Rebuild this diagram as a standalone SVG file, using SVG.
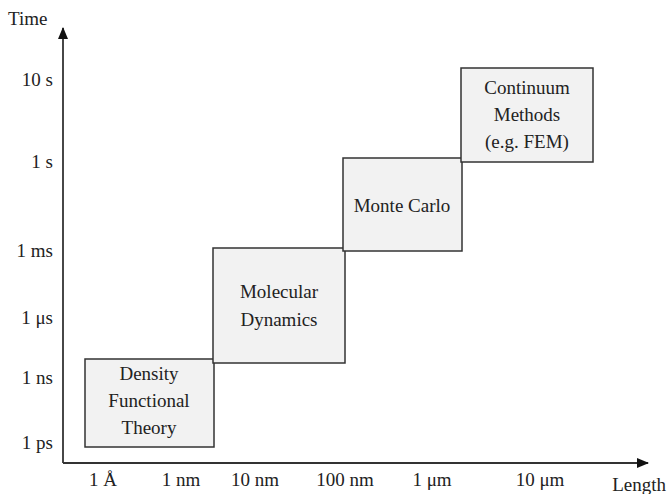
<svg xmlns="http://www.w3.org/2000/svg" width="670" height="494" viewBox="0 0 670 494" font-family="'Liberation Serif', 'Times New Roman', 'DejaVu Serif', serif" font-size="19">
<style>
text{font-family:'Liberation Serif','Times New Roman','DejaVu Serif',serif;font-size:19px;fill:#222}
.box{fill:#f2f2f2;stroke:#333;stroke-width:1.5}
.ax{stroke:#333;stroke-width:1.8;fill:none}
.yl{text-anchor:end}
.c{text-anchor:middle}
</style>
<defs>
<marker id="ah" markerWidth="12" markerHeight="10" refX="11" refY="5" orient="auto" markerUnits="userSpaceOnUse">
<path d="M0,0 L12,5 L0,10 Z" fill="#111"/>
</marker>
</defs>
<g id="connectors">
<path class="ax" d="M63,463 V28" marker-end="url(#ah)"/>
<path class="ax" d="M63,463 H648" marker-end="url(#ah)"/>
</g>
<g id="labels">
<text x="8" y="25">Time</text>
<text x="666" y="491" text-anchor="end">Length</text>
<text class="yl" x="53" y="86">10 s</text>
<text class="yl" x="53" y="168">1 s</text>
<text class="yl" x="53" y="257">1 ms</text>
<text class="yl" x="53" y="324">1 μs</text>
<text class="yl" x="53" y="384">1 ns</text>
<text class="yl" x="53" y="449">1 ps</text>
<text class="c" x="103" y="486">1 Å</text>
<text class="c" x="181" y="486">1 nm</text>
<text class="c" x="255" y="486">10 nm</text>
<text class="c" x="345" y="486">100 nm</text>
<text class="c" x="432" y="486">1 μm</text>
<text class="c" x="540" y="486">10 μm</text>
</g>
<g id="dft">
<rect class="box" x="85" y="359" width="129" height="88"/>
<text class="c" x="149" y="380">Density</text>
<text class="c" x="149" y="407">Functional</text>
<text class="c" x="149" y="434">Theory</text>
</g>
<g id="md">
<rect class="box" x="213" y="248" width="132" height="115"/>
<text class="c" x="279" y="298">Molecular</text>
<text class="c" x="279" y="326">Dynamics</text>
</g>
<g id="mc">
<rect class="box" x="343" y="158" width="119" height="93"/>
<text class="c" x="402" y="212">Monte Carlo</text>
</g>
<g id="continuum">
<rect class="box" x="461" y="68" width="132" height="94"/>
<text class="c" x="527" y="94">Continuum</text>
<text class="c" x="527" y="121">Methods</text>
<text class="c" x="527" y="148">(e.g. FEM)</text>
</g>
</svg>
